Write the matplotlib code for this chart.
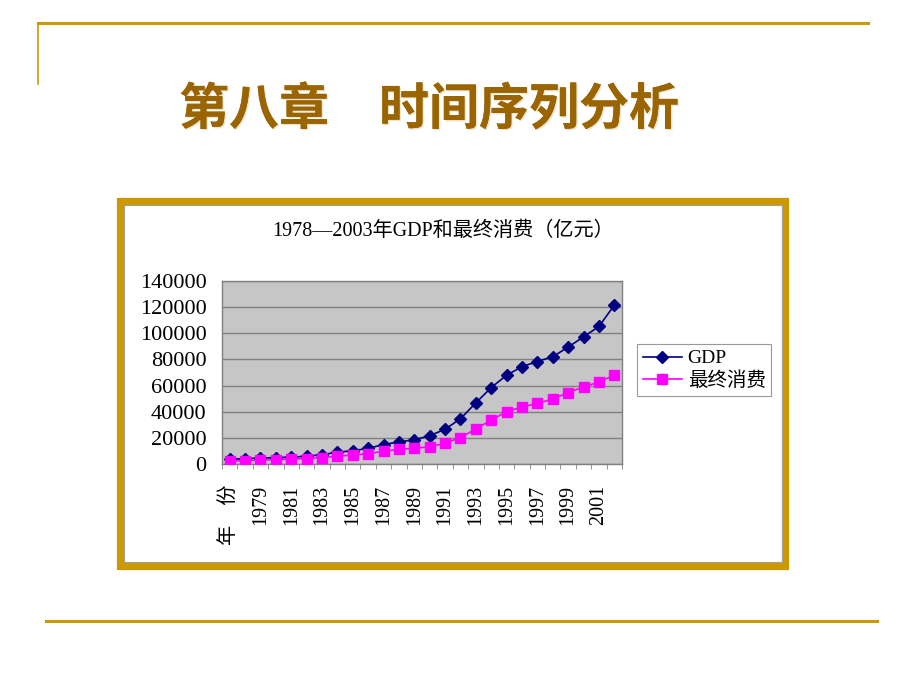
#!/usr/bin/env python3
"""Slide: chapter 8 title with GDP / final consumption line chart, 1978-2003."""

import matplotlib

matplotlib.use("Agg")
import matplotlib.pyplot as plt
import matplotlib.patheffects as pe
from matplotlib.lines import Line2D
from matplotlib.patches import Rectangle

# category labels as they appear on the axis (header cell slipped into the range)
categories = [
    "年　份", "1978", "1979", "1980", "1981", "1982", "1983", "1984", "1985",
    "1986", "1987", "1988", "1989", "1990", "1991", "1992", "1993", "1994",
    "1995", "1996", "1997", "1998", "1999", "2000", "2001", "2002",
]
gdp = [
    3650, 4100, 4550, 4900, 5300, 5950, 7200, 8950, 10200, 11950, 14900, 16900,
    18550, 21600, 26600, 34600, 46750, 58500, 67900, 74500, 78400, 82100,
    89400, 97300, 105200, 121500,
]
consumption = [
    2250, 2650, 3000, 3350, 3700, 4150, 4850, 6000, 6800, 7800, 9800, 11150,
    12100, 13100, 15950, 20200, 26800, 33650, 40000, 43600, 46400, 49700,
    54600, 58900, 62800, 67900,
]
y_ticks = [0, 20000, 40000, 60000, 80000, 100000, 120000, 140000]

W, H = 920, 690
GOLD = "#CC9900"
SERIF = ["Liberation Serif", "Noto Sans CJK SC"]
CJK = ["Noto Sans CJK SC", "DejaVu Sans"]


def fx(px):
    return px / W


def fy(py):
    return 1 - py / H


fig = plt.figure(figsize=(W / 100, H / 100), dpi=100)
fig.patch.set_facecolor("white")

# slide decoration lines
fig.add_artist(Line2D([fx(38), fx(868)], [fy(23), fy(23)], color=GOLD, lw=2.2))
fig.add_artist(Line2D([fx(38.5), fx(38.5)], [fy(23), fy(84)], color=GOLD, lw=1.2))
fig.add_artist(Line2D([fx(46), fx(877)], [fy(621), fy(621)], color=GOLD, lw=2.2))

# slide title
fig.text(
    fx(429), fy(110), "第八章　时间序列分析", family=CJK, fontsize=36,
    fontweight="bold", color="#9A6400", ha="center", va="center",
    path_effects=[
        pe.withSimplePatchShadow(offset=(1, -1), shadow_rgbFace="#D8C8A0", alpha=0.5),
        pe.Normal(),
    ],
)

# chart frame (gold border, thin grey inner line)
fig.add_artist(Rectangle((fx(120.5), fy(565.5)), fx(665), 365 / H,
                         transform=fig.transFigure, facecolor="white",
                         edgecolor=GOLD, lw=5.2, zorder=0))
fig.add_artist(Rectangle((fx(124.5), fy(561.5)), fx(657), 357 / H,
                         transform=fig.transFigure, facecolor="none",
                         edgecolor="#A0A0A0", lw=0.8, zorder=0.5))

fig.text(fx(443), fy(231), "1978—2003年GDP和最终消费（亿元）", family=SERIF,
         fontsize=14.5, ha="center", va="center", color="black")

ax = fig.add_axes([fx(222), fy(464), fx(400), 183 / H])
ax.set_facecolor("#C6C6C6")
x = list(range(len(categories)))
ax.plot(x, gdp, color="#000080", lw=1.2, marker="D", markersize=6,
        markerfacecolor="#000080", markeredgecolor="#000080", label="GDP", zorder=3)
ax.plot(x, consumption, color="#FF00FF", lw=1.2, marker="s", markersize=6.5,
        markerfacecolor="#FF00FF", markeredgecolor="#FF00FF", label="最终消费", zorder=3)

ax.set_xlim(-0.5, len(categories) - 0.5)
ax.set_ylim(0, 140000)
ax.set_yticks(y_ticks)
ax.set_yticklabels([str(v) for v in y_ticks], family=SERIF, fontsize=16)
ax.set_xticks(x[::2])
ax.set_xticklabels(categories[::2], rotation=90, family=SERIF, fontsize=14.5)
ax.set_xticks([i - 0.5 for i in range(len(categories) + 1)], minor=True)
ax.tick_params(axis="x", which="major", length=0, pad=15)
ax.tick_params(axis="x", which="minor", length=3.5, color="#808080", direction="out")
ax.tick_params(axis="y", length=0, pad=11)
ax.grid(axis="y", color="#808080", lw=1.0)
ax.set_axisbelow(True)
for s in ax.spines.values():
    s.set_color("#808080")
    s.set_linewidth(1.0)

leg = ax.legend(loc="upper left", bbox_to_anchor=(fx(637), fy(344)),
                bbox_transform=fig.transFigure, prop={"family": SERIF, "size": 14},
                frameon=True, fancybox=False, borderpad=0.3, handlelength=2.0,
                handletextpad=0.3, labelspacing=0.2, borderaxespad=0)
leg.get_frame().set_edgecolor("#808080")
leg.get_frame().set_linewidth(0.8)

fig.savefig("out.png", dpi=100)
